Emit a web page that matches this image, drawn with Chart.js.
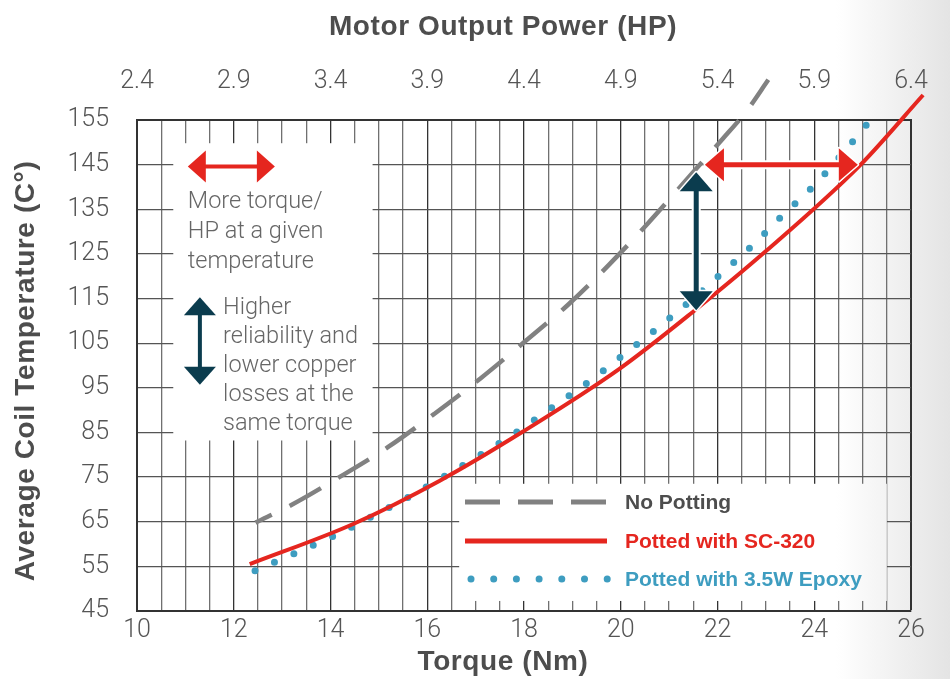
<!DOCTYPE html>
<html>
<head>
    <title>Average Coil Temperature vs Torque</title>
    <script src="https://cdn.jsdelivr.net/npm/chart.js"></script>
    <style>
        html, body { margin: 0; padding: 0; background: #fff; }
    </style>
</head>
<body>
    <canvas id="myChart" width="950" height="679"></canvas>

    <script>
        // values: torque (Nm) / temperature (C)
        const torqueNoPotting = [12.45, 13.2, 14.2, 15.2, 16.15, 17.1, 18.0, 18.9, 19.75, 20.55, 21.35, 22.1, 22.6, 23.05];
        const tempNoPotting = [64.8, 68.8, 75.1, 81.8, 89.2, 97.1, 105.2, 113.5, 122.5, 131.7, 141.5, 150.7, 157.0, 164.0];

        const torqueSC320 = [12.33, 14.47, 16.26, 17.98, 19.98, 21.49, 23.02, 24.95, 26.25];
        const tempSC320 = [55.5, 64.5, 74.2, 85.2, 99.3, 112.0, 125.8, 144.9, 160.6];

        const torqueEpoxy = [12.44, 13.24, 14.07, 14.88, 15.66, 16.45, 17.21, 17.96, 18.7, 19.43, 20.07, 20.75, 21.43, 22.09, 22.75, 23.37, 24.02, 24.61, 25.11];
        const tempEpoxy = [54.0, 57.8, 61.8, 66.3, 70.8, 75.8, 80.7, 85.9, 91.5, 97.1, 102.5, 108.3, 114.4, 120.7, 127.2, 133.9, 140.6, 147.8, 154.3];

        const seriesNames = ["No Potting", "Potted with SC-320", "Potted with 3.5W Epoxy"];

        const torqueLabels = [10, 12, 14, 16, 18, 20, 22, 24, 26];
        const hpLabels = [2.4, 2.9, 3.4, 3.9, 4.4, 4.9, 5.4, 5.9, 6.4];
        const tempTicks = [45, 55, 65, 75, 85, 95, 105, 115, 125, 135, 145, 155];

        const RED = "#e5261f";
        const TEAL = "#0b3c4e";
        const GRAY = "#818181";
        const BLUE = "#3e9dc0";
        const TEXT = "#4d4d4d";

        function pairs(xs, ys) {
            return xs.map((x, i) => ({ x: x, y: ys[i] }));
        }

        function bgGradient(ctx) {
            const g = ctx.createLinearGradient(0, 0, 950, 0);
            g.addColorStop(0, "#ffffff");
            g.addColorStop(0.88, "#ffffff");
            g.addColorStop(1, "#e4e4e4");
            return g;
        }

        function doubleArrow(ctx, x1, y1, x2, y2, color, w, headLen, headW, outline) {
            const len = Math.hypot(x2 - x1, y2 - y1);
            const ux = (x2 - x1) / len, uy = (y2 - y1) / len;
            const px = -uy, py = ux;
            const head = (tx, ty, dir) => {
                const bx = tx - dir * ux * headLen, by = ty - dir * uy * headLen;
                ctx.beginPath();
                ctx.moveTo(tx, ty);
                ctx.lineTo(bx + px * headW / 2, by + py * headW / 2);
                ctx.lineTo(bx - px * headW / 2, by - py * headW / 2);
                ctx.closePath();
            };
            ctx.save();
            if (outline) {
                ctx.strokeStyle = "#fff";
                ctx.lineWidth = w + 4;
                ctx.beginPath();
                ctx.moveTo(x1 + ux * headLen, y1 + uy * headLen);
                ctx.lineTo(x2 - ux * headLen, y2 - uy * headLen);
                ctx.stroke();
                ctx.lineWidth = 3;
                ctx.lineJoin = "round";
                head(x1, y1, -1); ctx.stroke();
                head(x2, y2, 1); ctx.stroke();
            }
            ctx.strokeStyle = color;
            ctx.fillStyle = color;
            ctx.lineWidth = w;
            ctx.beginPath();
            ctx.moveTo(x1 + ux * headLen * 0.8, y1 + uy * headLen * 0.8);
            ctx.lineTo(x2 - ux * headLen * 0.8, y2 - uy * headLen * 0.8);
            ctx.stroke();
            head(x1, y1, -1); ctx.fill();
            head(x2, y2, 1); ctx.fill();
            ctx.restore();
        }

        const decorPlugin = {
            id: "decor",
            beforeDraw(chart) {
                const ctx = chart.ctx;
                ctx.save();
                ctx.fillStyle = bgGradient(ctx);
                ctx.fillRect(0, 0, chart.width, chart.height);
                ctx.restore();
            },
            beforeDatasetsDraw(chart) {
                const ctx = chart.ctx;
                const x = chart.scales.x, y = chart.scales.y;
                ctx.save();
                ctx.fillStyle = bgGradient(ctx);
                // note box, upper left
                let l = x.getPixelForValue(10.75), r = x.getPixelForValue(14.87);
                let t = y.getPixelForValue(149.8), b = y.getPixelForValue(83.2);
                ctx.fillRect(l, t, r - l, b - t);
                // legend box
                l = x.getPixelForValue(16.66); r = x.getPixelForValue(25.5);
                t = y.getPixelForValue(73.5); b = y.getPixelForValue(47.25);
                ctx.fillRect(l, t, r - l, b - t);
                ctx.restore();
            },
            afterDatasetsDraw(chart) {
                const ctx = chart.ctx;
                const x = chart.scales.x, y = chart.scales.y;
                const px = v => x.getPixelForValue(v), py = v => y.getPixelForValue(v);

                // arrows inside the chart
                doubleArrow(ctx, px(21.74), py(145), px(24.9), py(145), RED, 5, 19, 33, true);
                doubleArrow(ctx, px(21.56), py(143.3), px(21.56), py(112.4), TEAL, 5, 19, 33, true);

                // note box contents
                doubleArrow(ctx, px(11.05), py(144.6), px(12.85), py(144.6), RED, 4, 18, 32, false);
                doubleArrow(ctx, px(11.3), py(115.3), px(11.3), py(95.7), TEAL, 4, 18, 32, false);

                ctx.save();
                ctx.fillStyle = "#666";
                ctx.font = '300 23.5px "Roboto"';
                ctx.textBaseline = "middle";
                ctx.textAlign = "left";
                const l1 = ["More torque/", "HP at a given", "temperature"];
                l1.forEach((s, i) => ctx.fillText(s, px(11.05), 202 + i * 30));
                const l2 = ["Higher", "reliability and", "lower copper", "losses at the", "same torque"];
                l2.forEach((s, i) => ctx.fillText(s, px(11.78), 308 + i * 29));

                // legend
                const lx1 = 465, lx2 = 607, rows = [502, 541, 579];
                ctx.lineCap = "butt";
                ctx.strokeStyle = GRAY;
                ctx.lineWidth = 5;
                ctx.setLineDash([35, 18]);
                ctx.beginPath(); ctx.moveTo(lx1, rows[0]); ctx.lineTo(lx2, rows[0]); ctx.stroke();
                ctx.setLineDash([]);
                ctx.strokeStyle = RED;
                ctx.beginPath(); ctx.moveTo(lx1, rows[1]); ctx.lineTo(lx2, rows[1]); ctx.stroke();
                ctx.fillStyle = BLUE;
                for (let k = 0; k < 7; k++) {
                    ctx.beginPath();
                    ctx.arc(471 + k * 22.7, rows[2], 3.5, 0, Math.PI * 2);
                    ctx.fill();
                }
                ctx.font = 'bold 21px "Liberation Sans"';
                const cols = [TEXT, RED, BLUE];
                seriesNames.forEach((s, i) => {
                    ctx.fillStyle = cols[i];
                    ctx.fillText(s, 625, rows[i] + 1);
                });
                ctx.restore();
            },
            afterDraw(chart) {
                const ctx = chart.ctx;
                ctx.save();
                ctx.fillStyle = TEXT;
                ctx.font = 'bold 28px "Liberation Sans"';
                ctx.letterSpacing = "0.6px";
                ctx.textAlign = "center";
                ctx.textBaseline = "middle";
                ctx.fillText("Motor Output Power (HP)", 503, 27);
                ctx.fillText("Torque (Nm)", 503, 662);
                ctx.translate(26, 371);
                ctx.rotate(-Math.PI / 2);
                ctx.fillText("Average Coil Temperature (C°)", 0, 0);
                ctx.restore();
            }
        };

        const tickFont = { family: "Roboto", size: 25, weight: "300" };

        const ctx = document.getElementById("myChart").getContext("2d");
        new Chart(ctx, {
            type: "line",
            data: {
                datasets: [{
                    label: seriesNames[0],
                    data: pairs(torqueNoPotting, tempNoPotting),
                    borderColor: GRAY,
                    borderWidth: 4.5,
                    borderDash: [36, 20],
                    borderDashOffset: 18,
                    cubicInterpolationMode: "monotone",
                    pointRadius: 0,
                    clip: false,
                }, {
                    label: seriesNames[1],
                    data: pairs(torqueSC320, tempSC320),
                    borderColor: RED,
                    borderWidth: 4,
                    cubicInterpolationMode: "monotone",
                    pointRadius: 0,
                    clip: false,
                }, {
                    label: seriesNames[2],
                    data: pairs(torqueEpoxy, tempEpoxy),
                    borderColor: BLUE,
                    borderWidth: 7,
                    borderDash: [0, 21.2],
                    borderCapStyle: "round",
                    cubicInterpolationMode: "monotone",
                    pointRadius: 0,
                    clip: false,
                }],
            },
            options: {
                responsive: false,
                animation: false,
                layout: { padding: { left: 0, right: 39, top: 0, bottom: 0 } },
                plugins: {
                    legend: { display: false },
                    tooltip: { enabled: false },
                },
                scales: {
                    x: {
                        type: "linear",
                        position: "bottom",
                        min: 10,
                        max: 26,
                        afterBuildTicks: s => {
                            const t = [];
                            for (let v = 10; v <= 26; v += 0.5) t.push({ value: v });
                            s.ticks = t;
                        },
                        afterFit: s => { s.height = 68; },
                        ticks: {
                            autoSkip: false,
                            maxRotation: 0,
                            padding: 5,
                            color: "#555",
                            font: tickFont,
                            callback: v => torqueLabels.includes(v) ? String(v) : "",
                        },
                        grid: {
                            drawTicks: false,
                            color: c => (c.tick && c.tick.value % 2 === 0) ? "#333" : "#707070",
                            lineWidth: c => (c.tick && (c.tick.value === 26)) ? 2 : 1.3,
                        },
                        border: { display: true, color: "#333", width: 2 },
                    },
                    x2: {
                        type: "linear",
                        position: "top",
                        min: 2.4,
                        max: 6.4,
                        afterBuildTicks: s => { s.ticks = hpLabels.map(v => ({ value: v })); },
                        afterFit: s => { s.height = 120; },
                        ticks: {
                            autoSkip: false,
                            maxRotation: 0,
                            padding: 20,
                            color: "#555",
                            font: { family: "Roboto", size: 25, weight: "300", lineHeight: 1.5 },
                            callback: v => v.toFixed(1),
                        },
                        grid: { display: false, drawTicks: false },
                        border: { display: true, color: "#333", width: 2 },
                    },
                    y: {
                        type: "linear",
                        position: "left",
                        min: 45,
                        max: 155,
                        afterBuildTicks: s => { s.ticks = tempTicks.map(v => ({ value: v })); },
                        afterFit: s => { s.width = 137; },
                        ticks: {
                            padding: 28,
                            color: "#555",
                            font: tickFont,
                        },
                        grid: {
                            drawTicks: false,
                            color: "#555",
                            lineWidth: 1.3,
                        },
                        border: { display: true, color: "#333", width: 2 },
                    },
                },
            },
            plugins: [decorPlugin],
        });
    </script>
</body>
</html>
